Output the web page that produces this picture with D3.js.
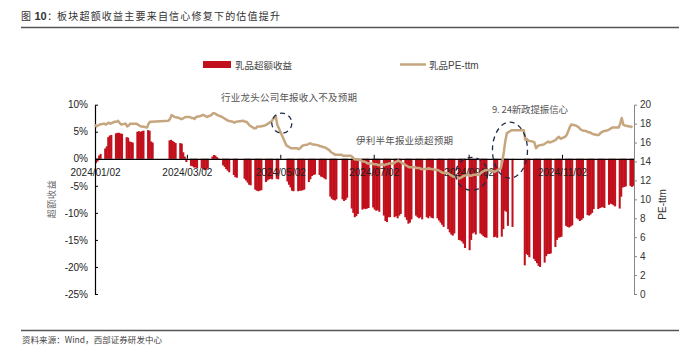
<!DOCTYPE html>
<html>
<head>
<meta charset="utf-8">
<script src="https://cdn.jsdelivr.net/npm/d3@7"></script>
<style>
  body { margin: 0; background: #fff; }
  text { font-family: "Liberation Sans", Arial, sans-serif; }
  .cjk { font-family: "Noto Sans CJK SC", sans-serif; }
</style>
</head>
<body>
<div id="chart"></div>
<script>
// ---- data ----
const firstDay = "2024-01-02";
const lastDay = "2024-12-18";
// exchange closed on these weekdays
const holidays = ["2024-01-01", "2024-02-09", "2024-02-12", "2024-02-13", "2024-02-14", "2024-02-15",
  "2024-02-16", "2024-04-04", "2024-04-05", "2024-05-01", "2024-05-02", "2024-05-03", "2024-06-10",
  "2024-09-16", "2024-09-17", "2024-10-01", "2024-10-02", "2024-10-03", "2024-10-04", "2024-10-07"];

// 乳品超额收益 (%), one value per trading day, one row per week
const excess = [
  -0.8, -0.5, 0.6, 0.9,
  1.9, 2.3, 4.0, 4.3, 4.4,
  4.7, 4.8, 4.8, 4.7, 4.6,
  4.0, 3.9, 3.2, 3.1, 3.0,
  5.0, 5.1, 5.0, 5.1, 5.2,
  5.3, 5.2, 3.2, 3.0,
  3.4, 3.5, 3.3, 3.1, 2.9,
  2.9, 2.8, 1.2, 0.4, -0.6,
  -1.3, -1.4, -1.6, -1.6, -1.7,
  -1.7, -1.9, -2.1, -2.0, -1.8,
  0.4, 0.7, 0.6, 0.3, 0.1,
  -1.2, -1.5, -1.9, -2.2, -2.5,
  -3.0, -3.4, -3.5,
  -3.7, -4.0, -4.4, -4.8, -4.9,
  -5.7, -5.9, -6.0, -5.9, -5.8,
  -4.3, -4.0, -3.8, -3.7, -3.8,
  -3.7, -3.8,
  -4.2, -4.8, -5.3, -5.9, -6.0,
  -6.0, -5.9, -5.9, -5.8, -5.7,
  -4.3, -3.8, -3.2, -3.0, -2.9,
  -3.0, -3.3, -3.4, -3.6, -3.8,
  -7.0, -7.4, -7.6, -7.7, -7.5,
  -7.5, -7.8, -7.6, -7.2,
  -9.2, -10.0, -10.8, -10.6, -10.2,
  -9.4, -9.2, -9.3, -9.2, -9.1,
  -9.0, -9.4, -9.6, -9.5, -9.8,
  -10.5, -11.5, -11.7, -10.8, -10.8,
  -10.8, -10.6, -11.0, -10.5, -10.2,
  -10.8, -11.3, -12.0, -11.8, -11.2,
  -10.5, -10.8, -11.0, -10.8, -11.2,
  -10.8, -11.0, -10.6, -10.9, -11.0,
  -11.0, -11.4, -11.8, -12.2, -12.6,
  -13.0, -13.6, -14.0, -14.2, -13.8,
  -15.0, -15.1, -15.3, -15.7, -16.5,
  -16.9, -15.0, -13.8, -13.6, -14.0,
  -13.8, -14.0, -14.3, -14.5, -14.6,
  -14.5, -14.4, -14.6,
  -14.4, -13.0, -9.6, -9.8, -12.4,
  -12.6,
  -19.7, -17.6, -17.8, -18.2,
  -18.5, -18.9, -19.3, -19.8, -20.0,
  -19.2, -18.0, -17.6, -17.6, -17.5,
  -16.3, -15.0, -14.6, -14.5, -14.4,
  -12.4, -12.6, -12.7, -12.5, -12.3,
  -11.0, -11.2, -11.5, -11.3, -11.0,
  -10.4, -10.5, -10.3, -10.0, -9.3,
  -9.3, -9.1, -9.0, -8.9, -9.1,
  -8.5, -8.3, -8.4, -8.6, -8.8,
  -9.2, -7.0, -5.3, -5.2, -5.1,
  -5.0, -5.2, -5.0
];

// 乳品PE-ttm, same trading days
const peTtm = [
  17.9, 17.7, 17.8, 17.9,
  18.0, 17.9, 18.0, 18.1, 18.0,
  18.2, 18.2, 18.3, 18.1, 17.9,
  18.0, 17.7, 17.8, 18.0, 18.0,
  18.0, 17.9, 17.8, 17.7, 17.7,
  17.6, 18.0, 18.2, 18.2,
  18.3, 18.5, 18.9, 18.8, 18.7,
  18.6, 18.5, 18.5, 18.6, 18.7,
  18.7, 18.6, 18.6, 18.5, 18.7,
  18.8, 18.9, 18.9, 18.8, 18.7,
  18.9, 19.1, 19.1, 19.0, 18.9,
  18.7, 18.6, 18.5, 18.4, 18.3,
  18.2, 18.1, 18.2,
  18.3, 18.2, 18.2, 18.0, 17.8,
  17.5, 17.5, 17.7, 17.7, 17.7,
  17.8, 17.9, 18.0, 18.1, 18.2,
  18.8, 17.9,
  15.7, 15.6, 15.5, 15.4, 15.4,
  15.4, 15.3, 15.4, 15.6, 15.7,
  15.8, 15.9, 15.9, 15.8, 15.8,
  15.7, 15.6, 15.6, 15.5, 15.5,
  15.2, 15.0, 14.9, 14.8, 14.7,
  14.7, 14.6, 14.6, 14.6,
  14.6, 14.5, 14.3, 14.2, 14.2,
  14.1, 14.0, 14.0, 13.9, 13.8,
  13.8, 13.7, 13.7, 13.7, 13.6,
  13.7, 13.6, 13.7, 13.7, 13.8,
  13.8, 13.9, 14.0, 14.1, 14.0,
  13.7, 13.6, 13.5, 13.4, 13.4,
  13.4, 13.3, 13.3, 13.3, 13.2,
  13.2, 13.2, 13.3, 13.2, 13.2,
  13.1, 13.1, 13.0, 12.9, 12.8,
  12.8, 12.7, 12.6, 12.5, 12.4,
  12.3, 12.2, 12.3, 12.4, 12.5,
  12.6, 12.5, 12.5, 12.6, 12.6,
  12.6, 12.8, 12.9, 13.0, 13.1,
  13.0, 12.9, 13.0,
  13.3, 14.0, 15.0, 16.2, 17.0,
  17.3,
  17.3, 16.3, 16.4, 16.2,
  16.1, 16.0, 15.4, 15.6, 15.7,
  15.8, 15.9, 16.0, 16.1, 16.0,
  16.2, 16.3, 16.5, 16.6, 16.4,
  16.6, 16.8, 17.2, 17.6, 17.9,
  17.8, 17.7, 17.6, 17.4, 17.3,
  17.2, 17.1, 17.1, 17.0, 16.9,
  16.8, 16.8, 17.0, 17.1, 17.2,
  17.3, 17.4, 17.5, 17.6, 17.6,
  17.6, 18.0, 18.6, 17.9, 17.8,
  17.7, 17.7, 17.6
];

const xTickDates = ["2024-01-02", "2024-03-02", "2024-05-02", "2024-07-02", "2024-09-02", "2024-11-02"];
const leftTicks = [10, 5, 0, -5, -10, -15, -20, -25];
const rightTicks = [0, 2, 4, 6, 8, 10, 12, 14, 16, 18, 20];

// dashed circles: anchored on a date and a PE value
const circles = [
  { date: "2024-05-03", pe: 18.05 },
  { date: "2024-09-04", pe: 12.7 },
  { date: "2024-09-29", pe: 15.2 }
];
const notes = ["行业龙头公司年报收入不及预期", "伊利半年报业绩超预期", "9. 24新政提振信心"];

// ---- build ----
const W = 700, H = 351;
const pLeft = 95, pRight = 634, pTop = 104.7, pBottom = 294;
const barColor = "#C10F1C", lineColor = "#C6A67E";

const parse = d3.timeParse("%Y-%m-%d");
const fmtDay = d3.timeFormat("%Y-%m-%d");
const closed = new Set(holidays);
const days = d3.timeDay.range(parse(firstDay), d3.timeDay.offset(parse(lastDay), 1))
  .filter(d => d.getDay() !== 0 && d.getDay() !== 6 && !closed.has(fmtDay(d)));

const n = Math.min(days.length, excess.length, peTtm.length);
const data = d3.range(n).map(i => ({ date: days[i], ex: excess[i], pe: peTtm[i] }));

const svg = d3.select("#chart").append("svg")
  .attr("width", W).attr("height", H);

const x = d3.scaleTime()
  .domain([parse(firstDay), d3.timeDay.offset(parse(lastDay), 1)])
  .range([pLeft, pRight]);
const yL = d3.scaleLinear().domain([-25, 10]).range([pBottom, pTop]);
const yR = d3.scaleLinear().domain([0, 20]).range([pBottom, pTop]);

// title + rules
svg.append("text").attr("class", "cjk").attr("x", 21).attr("y", 19.5)
  .attr("font-size", 10).attr("fill", "#333").text("图");
svg.append("text").attr("x", 34.5).attr("y", 19.5)
  .attr("font-size", 11).attr("font-weight", "bold").attr("fill", "#333").text("10");
svg.append("text").attr("class", "cjk").attr("x", 47).attr("y", 19.5)
  .attr("font-size", 10.5).attr("fill", "#333").text("：");
svg.append("text").attr("class", "cjk").attr("x", 57).attr("y", 19.5)
  .attr("font-size", 10).attr("fill", "#333")
  .attr("textLength", 223).attr("lengthAdjust", "spacing")
  .text("板块超额收益主要来自信心修复下的估值提升");
svg.append("line").attr("x1", 21).attr("x2", 679).attr("y1", 27.5).attr("y2", 27.5)
  .attr("stroke", "#555").attr("stroke-width", 1.3);
svg.append("line").attr("x1", 21).attr("x2", 679).attr("y1", 330.5).attr("y2", 330.5)
  .attr("stroke", "#555").attr("stroke-width", 1.3);
svg.append("text").attr("class", "cjk").attr("x", 22).attr("y", 343)
  .attr("font-size", 8.5).attr("fill", "#444")
  .attr("textLength", 140).attr("lengthAdjust", "spacing")
  .text("资料来源：Wind，西部证券研发中心");

// legend
svg.append("rect").attr("x", 203).attr("y", 61).attr("width", 28).attr("height", 7).attr("fill", barColor);
svg.append("text").attr("class", "cjk").attr("x", 235).attr("y", 68.5)
  .attr("font-size", 9.5).attr("fill", "#444")
  .attr("textLength", 57).attr("lengthAdjust", "spacing").text("乳品超额收益");
svg.append("line").attr("x1", 400).attr("x2", 426).attr("y1", 64.5).attr("y2", 64.5)
  .attr("stroke", lineColor).attr("stroke-width", 2.5);
const peLegend = svg.append("text").attr("x", 429).attr("y", 68.5)
  .attr("font-size", 10).attr("fill", "#444");
peLegend.append("tspan").attr("class", "cjk").attr("font-size", 9.5).text("乳品");
peLegend.append("tspan").text("PE-ttm");

// bars (one per trading day, weekend gaps come from the time scale)
svg.append("g").selectAll("rect")
  .data(data)
  .enter().append("rect")
  .attr("x", d => x(d.date))
  .attr("width", d => x(d3.timeDay.offset(d.date, 1)) - x(d.date) + 0.5)
  .attr("y", d => Math.min(yL(d.ex), yL(0)))
  .attr("height", d => Math.abs(yL(d.ex) - yL(0)))
  .attr("fill", barColor);

// zero axis with dates
const xAxis = svg.append("g")
  .attr("transform", `translate(0,${yL(0)})`)
  .call(d3.axisBottom(x)
    .tickValues(xTickDates.map(parse))
    .tickFormat(d3.timeFormat("%Y/%m/%d"))
    .tickSizeInner(-4).tickSizeOuter(0).tickPadding(10));
xAxis.select(".domain").attr("stroke", "#000").attr("stroke-width", 1.2);
xAxis.selectAll(".tick line").attr("stroke", "#000");
xAxis.selectAll("text").attr("font-size", 10).attr("fill", "#222")
  .attr("font-family", "Liberation Sans, Arial, sans-serif");

// left axis
const lAxis = svg.append("g")
  .attr("transform", `translate(${pLeft},0)`)
  .call(d3.axisLeft(yL).tickValues(leftTicks).tickFormat(d => d + "%")
    .tickSizeInner(-3).tickSizeOuter(0).tickPadding(7));
lAxis.select(".domain").attr("stroke", "#000").attr("stroke-width", 1.2);
lAxis.selectAll(".tick line").attr("stroke", "#000");
lAxis.selectAll("text").attr("font-size", 10).attr("fill", "#222")
  .attr("font-family", "Liberation Sans, Arial, sans-serif");

// right axis
const rAxis = svg.append("g")
  .attr("transform", `translate(${pRight},0)`)
  .call(d3.axisRight(yR).tickValues(rightTicks).tickSizeInner(3).tickSizeOuter(0).tickPadding(3));
rAxis.select(".domain").attr("stroke", "#888");
rAxis.selectAll(".tick line").attr("stroke", "#888");
rAxis.selectAll("text").attr("font-size", 10).attr("fill", "#333")
  .attr("font-family", "Liberation Sans, Arial, sans-serif");

// axis titles
svg.append("text").attr("class", "cjk")
  .attr("transform", `translate(55,${(pTop + pBottom) / 2}) rotate(-90)`)
  .attr("text-anchor", "middle").attr("font-size", 9).attr("fill", "#666")
  .attr("textLength", 38).attr("lengthAdjust", "spacing").text("超额收益");
svg.append("text")
  .attr("transform", `translate(666,${(pTop + pBottom) / 2 + 5}) rotate(-90)`)
  .attr("text-anchor", "middle").attr("font-size", 10).attr("fill", "#333").text("PE-ttm");

// PE line
svg.append("path")
  .datum(data)
  .attr("fill", "none")
  .attr("stroke", lineColor)
  .attr("stroke-width", 2.5)
  .attr("stroke-linejoin", "round")
  .attr("d", d3.line().x(d => x(d.date)).y(d => yR(d.pe)));

// dashed circles
const radii = [[10, 10], [16, 16.5], [17.5, 28]];
svg.append("g").selectAll("ellipse")
  .data(circles)
  .enter().append("ellipse")
  .attr("cx", d => x(parse(d.date)))
  .attr("cy", d => yR(d.pe))
  .attr("rx", (d, i) => radii[i][0])
  .attr("ry", (d, i) => radii[i][1])
  .attr("fill", "none")
  .attr("stroke", "#1E2B45")
  .attr("stroke-width", 1.3)
  .attr("stroke-dasharray", "5,4");

// notes
const notePos = [[221, 101, 136], [356, 144, 97], [492, 113, 76]];
svg.append("g").selectAll("text")
  .data(notes)
  .enter().append("text")
  .attr("class", "cjk")
  .attr("x", (d, i) => notePos[i][0])
  .attr("y", (d, i) => notePos[i][1])
  .attr("textLength", (d, i) => notePos[i][2])
  .attr("lengthAdjust", "spacing")
  .attr("font-size", 9.5)
  .attr("fill", "#555")
  .text(d => d);
</script>
</body>
</html>
